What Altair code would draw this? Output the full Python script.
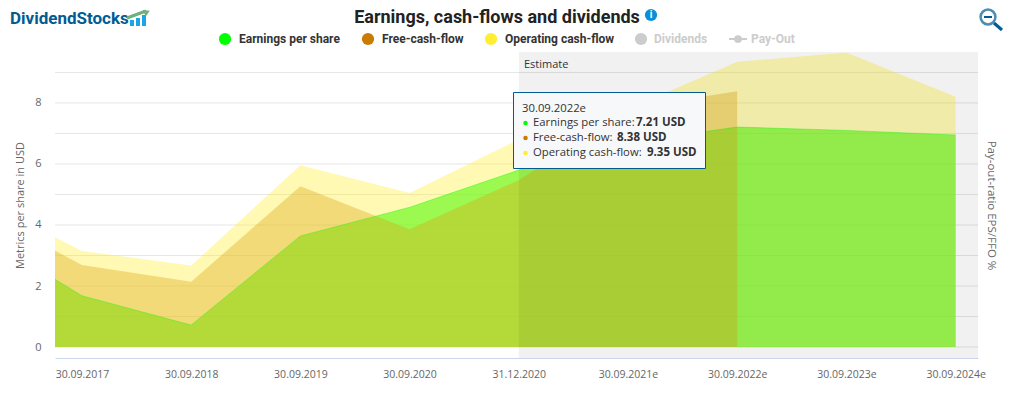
import altair as alt
import pandas as pd

slots = [-0.247, 0, 1, 2, 3, 4, 5, 6, 7, 8]
eps = [2.22, 1.68, 0.72, 3.64, 4.58, 5.8, 6.7, 7.21, 7.1, 6.95]
fcf = [3.16, 2.69, 2.14, 5.27, 3.86, 5.47, 7.83, 8.38, None, None]
ocf = [3.6, 3.15, 2.67, 5.96, 5.05, 6.8, 7.8, 9.35, 9.65, 8.2]
tick_labels = ["30.09.2017", "30.09.2018", "30.09.2019", "30.09.2020", "31.12.2020",
               "30.09.2021e", "30.09.2022e", "30.09.2023e", "30.09.2024e"]
y_grid = list(range(0, 10))
y_labels = [0, 2, 4, 6, 8]

L, T = 55, 52
W, H = 923, 306
XDOM = [-0.247, 8.205]
YDOM = [-0.36, 9.67]
GREEN, BROWN, YELLOW = "#00ff00", "#c97c00", "#ffee33"
SANS = "Open Sans"
HEAD = "Roboto"

df = pd.DataFrame({"slot": slots, "eps": eps, "fcf": fcf, "ocf": ocf})
xs = alt.Scale(domain=XDOM, nice=False, zero=False)
ys = alt.Scale(domain=YDOM, nice=False, zero=False)
lab_expr = "[" + ",".join(f"'{t}'" for t in tick_labels) + "][datum.value]"


def area(col, color, op):
    d = df.dropna(subset=[col])
    return alt.Chart(d).mark_area(color=color, opacity=op, clip=True, line=False).encode(
        x=alt.X("slot:Q", scale=xs, axis=None),
        y=alt.Y(f"{col}:Q", scale=ys, axis=None),
        y2=alt.Y2(datum=0),
    )


def txt(s, x, y, size=11, color="#333333", weight="normal", font=SANS, align="left", angle=None):
    kw = {"angle": angle} if angle is not None else {}
    return alt.Chart(alt.Data(values=[{"t": s}])).mark_text(
        fontSize=size, color=color, fontWeight=weight, font=font, align=align, baseline="middle", **kw
    ).encode(x=alt.value(x - L), y=alt.value(y - T), text="t:N")


def dot(x, y, size, color, opacity=1):
    return alt.Chart(alt.Data(values=[{}])).mark_circle(color=color, size=size, opacity=opacity).encode(
        x=alt.value(x - L), y=alt.value(y - T))


def rect(x, y, x2, y2, color, stroke=None):
    kw = {"stroke": stroke, "strokeWidth": 1} if stroke else {}
    return alt.Chart(alt.Data(values=[{}])).mark_rect(color=color, **kw).encode(
        x=alt.value(x - L), x2=alt.value(x2 - L), y=alt.value(y - T), y2=alt.value(y2 - T))


def seg(x, y, x2, y2, color, w):
    return alt.Chart(alt.Data(values=[{}])).mark_rule(color=color, strokeWidth=w).encode(
        x=alt.value(x - L), x2=alt.value(x2 - L), y=alt.value(y - T), y2=alt.value(y2 - T))


band = alt.Chart(alt.Data(values=[{"a": 4, "b": XDOM[1]}])).mark_rect(color="#000000", opacity=0.055).encode(
    x=alt.X("a:Q", scale=xs, axis=None), x2="b:Q")

grid = alt.Chart(pd.DataFrame({"v": y_grid})).mark_rule(color="#e6e6e6", strokeWidth=1).encode(
    y=alt.Y("v:Q", scale=ys, axis=None))

axes = alt.Chart(pd.DataFrame({"slot": list(range(9)), "v": [0] * 9})).mark_point(opacity=0).encode(
    x=alt.X("slot:Q", scale=xs, axis=alt.Axis(
        values=list(range(9)), labelExpr=lab_expr, title=None, grid=False, ticks=False,
        domainColor="#ccd6eb", labelColor="#666666", labelFont=SANS, labelFontSize=10.5,
        labelPadding=11, labelOverlap=False, labelFlush=False)),
    y=alt.Y("v:Q", scale=ys, axis=alt.Axis(
        values=y_labels, title="Metrics per share in USD", grid=False, ticks=False, domain=False,
        labelColor="#666666", labelFont=SANS, labelFontSize=11, labelPadding=14,
        titleColor="#666666", titleFont=SANS, titleFontSize=11, titleFontWeight="normal", titlePadding=9)),
)
right = alt.Chart(pd.DataFrame({"v": [0]})).mark_point(opacity=0).encode(
    y=alt.Y("v:Q", scale=ys, axis=alt.Axis(
        orient="right", title="Pay-out-ratio EPS/FFO %", labels=False, ticks=False, domain=False, grid=False,
        titleAngle=90, titleColor="#666666", titleFont=SANS, titleFontSize=11.5, titleFontWeight="normal",
        titlePadding=7)),
)

eps_line = alt.Chart(df).mark_line(color=GREEN, opacity=0.35, strokeWidth=1, clip=True).encode(
    x=alt.X("slot:Q", scale=xs, axis=None), y=alt.Y("eps:Q", scale=ys, axis=None))

legend = [
    dot(225, 39, 150, GREEN), txt("Earnings per share", 239, 39, 12, "#333333", "bold", HEAD),
    dot(368, 39, 150, BROWN), txt("Free-cash-flow", 382, 39, 12, "#333333", "bold", HEAD),
    dot(491, 39, 150, YELLOW), txt("Operating cash-flow", 505, 39, 12, "#333333", "bold", HEAD),
    dot(641, 39, 150, "#cccccc"), txt("Dividends", 654, 39, 12, "#cccccc", "bold", HEAD),
    seg(729, 39, 747, 39, "#cccccc", 2), dot(738, 39, 60, "#cccccc"),
    txt("Pay-Out", 751, 39, 12, "#cccccc", "bold", HEAD),
]

title = [
    txt("Earnings, cash-flows and dividends", 497, 17.5, 18, "#222222", "bold", HEAD, "center"),
    dot(651, 15, 150, "#0a8fd8"),
    txt("i", 651, 15, 10, "#ffffff", "bold", HEAD, "center"),
]

logo = [
    txt("DividendStocks", 10, 19, 17, "#005c93", "bold", HEAD),
    rect(130, 20, 134, 26, "#1ba4e6"), rect(136, 18, 140, 26, "#1ba4e6"), rect(142, 15, 146, 26, "#1ba4e6"),
    seg(127, 18, 146, 11, "#6fb17a", 3),
    alt.Chart(alt.Data(values=[{}])).mark_point(shape="triangle-up", filled=True, color="#6fb17a", size=50, angle=65, opacity=1).encode(
        x=alt.value(147 - L), y=alt.value(12 - T)),
]

zoomicon = [
    alt.Chart(alt.Data(values=[{}])).mark_circle(fill=None, stroke="#005c93", strokeWidth=2.5, size=220, filled=False).encode(
        x=alt.value(988 - L), y=alt.value(17 - T)),
    seg(984, 17, 992, 17, "#005c93", 2),
    seg(994, 23, 1002, 30, "#005c93", 3),
]

tooltip = [
    rect(513.5, 92.5, 705.5, 168.5, "#f7f8fa", "#005c93"),
    txt("30.09.2022e", 522, 108.5, 11.3, "#333333"),
    dot(525.5, 123, 20, GREEN), txt("Earnings per share:", 533, 123, 11.3), txt("7.21 USD", 636, 123, 11.5, "#333333", "bold"),
    dot(525.5, 138, 20, BROWN), txt("Free-cash-flow:", 533, 138, 11.3), txt("8.38 USD", 617, 138, 11.5, "#333333", "bold"),
    dot(525.5, 153, 20, YELLOW), txt("Operating cash-flow:", 533, 153, 11.3), txt("9.35 USD", 647, 153, 11.5, "#333333", "bold"),
]

layers = [grid, area("eps", GREEN, 0.62), area("fcf", BROWN, 0.37), area("ocf", YELLOW, 0.37), eps_line, band,
          axes, right, txt("Estimate", 524, 65, 11, "#333333")] + legend + title + logo + zoomicon + tooltip

chart = alt.layer(*layers).resolve_scale(x="independent", y="independent").properties(
    width=W, height=H,
    autosize=alt.AutoSizeParams(type="none"),
    padding={"left": L - 8, "top": T - 8, "right": 1011 - 16 - (L - 8) - W, "bottom": 377 - (T - 8) - H},
).configure_view(stroke=None)

chart.save("out.html", embed_options={"renderer": "svg", "actions": False})
